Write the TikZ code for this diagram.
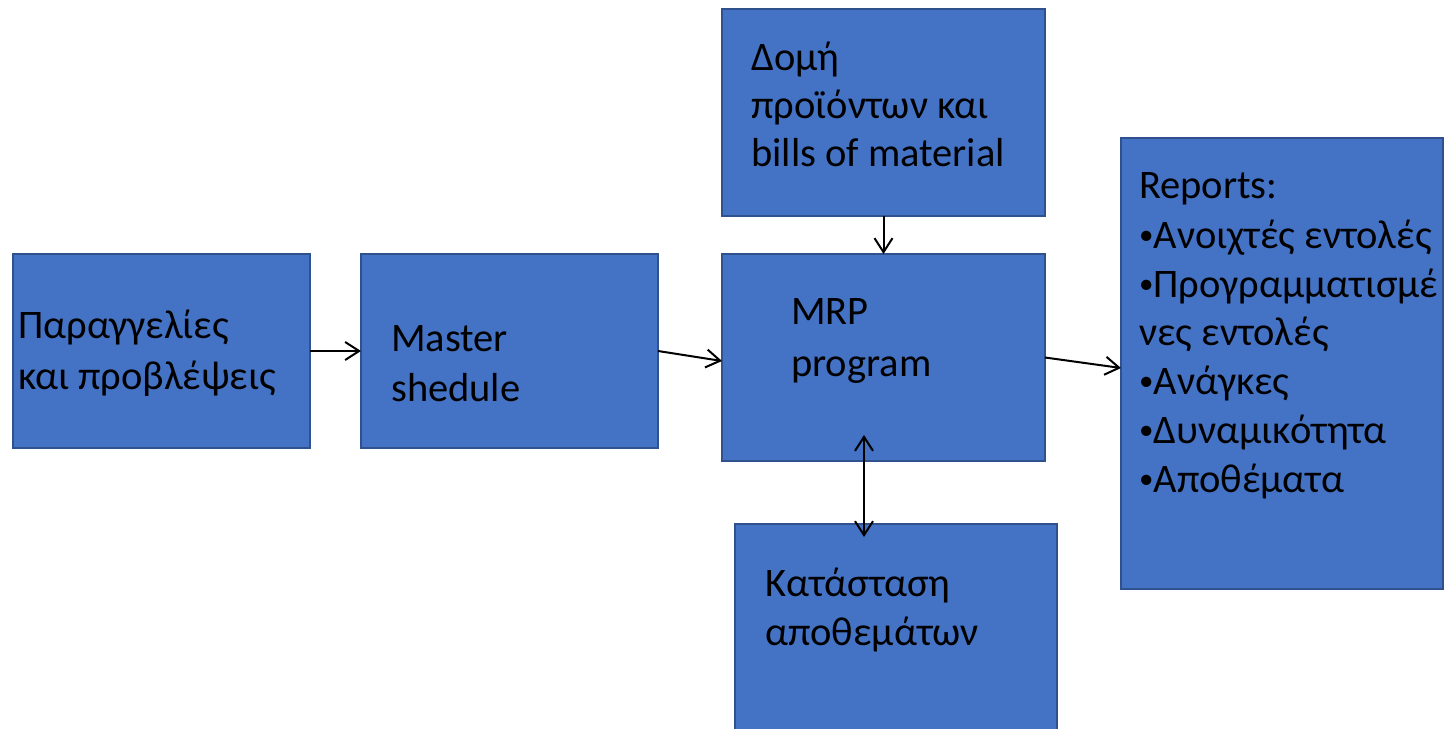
\documentclass[tikz,border=0pt]{standalone}
\usepackage{fontspec}
\setmainfont{Carlito}
\usetikzlibrary{arrows.meta}
\definecolor{boxfill}{HTML}{4472C4}
\definecolor{boxedge}{HTML}{2F528F}
\newcommand{\mybul}{{\fontsize{29}{0}\selectfont\raisebox{3.5pt}{•}}}
\begin{document}
\begin{tikzpicture}[x=1pt,y=-1pt,
  box/.style={draw=boxedge, fill=boxfill, line width=1.5pt, inner sep=0pt, outer sep=0pt, anchor=north west},
  txt/.style={anchor=base west, inner sep=0pt, font=\fontsize{40.5}{48}\selectfont, text=black},
  conn/.style={line width=2pt, -{Straight Barb[length=14pt,width=18pt,line width=2pt]}},
  dconn/.style={line width=2pt, {Straight Barb[length=14pt,width=18pt,line width=2pt]}-{Straight Barb[length=14pt,width=18pt,line width=2pt]}}]
\useasboundingbox (0,0) rectangle (1445,728);
\fill[white] (0,0) rectangle (1445,728);
% boxes
\node[box, minimum width=297pt, minimum height=194pt] (orders) at (13,254) {};
\node[box, minimum width=297pt, minimum height=194pt] (master) at (361,254) {};
\node[box, minimum width=323pt, minimum height=207pt] (mrp) at (722,254) {};
\node[box, minimum width=323pt, minimum height=207pt] (bom) at (722,9) {};
\node[box, minimum width=322pt, minimum height=220pt] (inv) at (735,524) {};
\node[box, minimum width=322pt, minimum height=451pt] (rep) at (1121,138) {};
% texts
\node[txt] (t1a) at (18,338) {Παραγγελίες};
\node[txt] (t1b) at (18,389) {και προβλέψεις};
\node[txt] (t2a) at (391,351) {Master};
\node[txt] (t2b) at (391,401) {shedule};
\node[txt] (t3a) at (791,324) {MRP};
\node[txt] (t3b) at (791,376) {program};
\node[txt] (t4a) at (751,70) {Δομή};
\node[txt] (t4b) at (751,118) {προϊόντων και};
\node[txt] (t4c) at (751,166) {bills of material};
\node[txt] (t5a) at (765,596) {Κατάσταση};
\node[txt] (t5b) at (765,645) {αποθεμάτων};
\node[txt] (r0) at (1139,198) {Reports:};
\node[txt] (r1) at (1139,248) {\mybul Ανοιχτές εντολές};
\node[txt] (r2) at (1139,297) {\mybul Προγραμματισμέ};
\node[txt] (r3) at (1139,345) {νες εντολές};
\node[txt] (r4) at (1139,394) {\mybul Ανάγκες};
\node[txt] (r5) at (1139,443) {\mybul Δυναμικότητα};
\node[txt] (r6) at (1139,492) {\mybul Αποθέματα};
% connectors
\draw[conn] (orders.east) -- (master.west);
\draw[conn] (master.east) -- ([yshift=-3.5pt]mrp.west);
\draw[conn] (bom.south) -- (mrp.north);
\coordinate (dtop) at ([xshift=-19.5pt,yshift=26pt]mrp.south);
\coordinate (dbot) at ([xshift=-32pt,yshift=-13pt]inv.north);
\draw[dconn] (dtop) -- (dbot);
\draw[conn] (mrp.east) -- ([yshift=-4.5pt]rep.west);
\end{tikzpicture}
\end{document}
